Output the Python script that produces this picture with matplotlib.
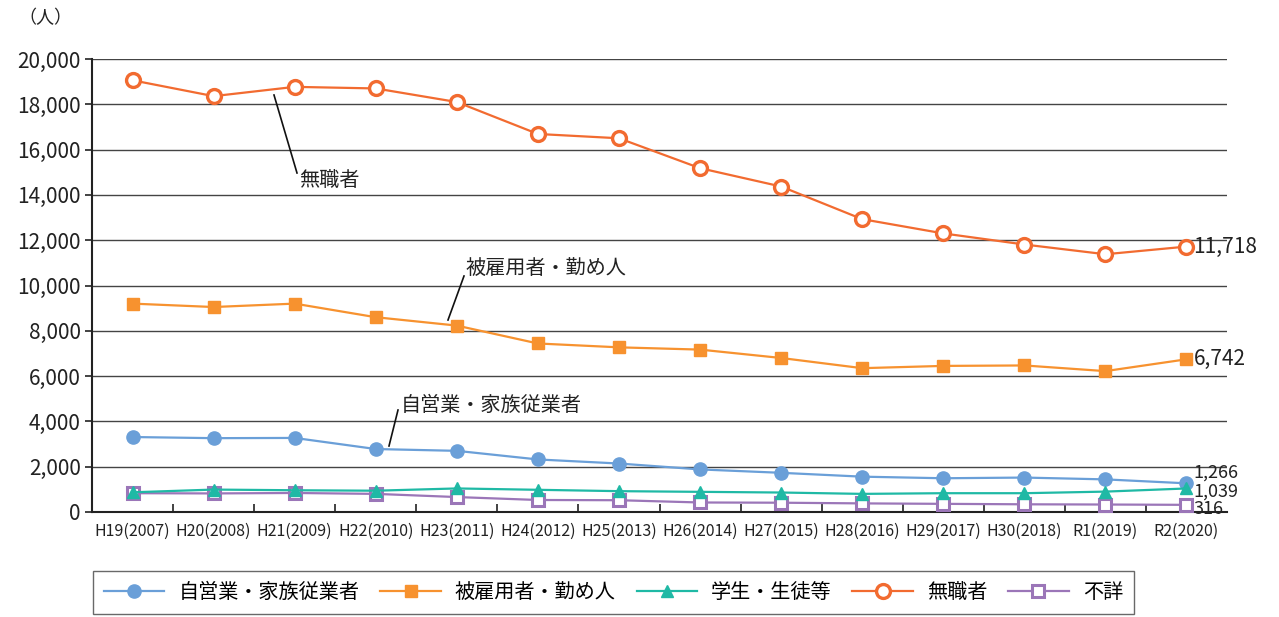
import matplotlib
matplotlib.use("Agg")
import matplotlib.pyplot as plt
from matplotlib.ticker import FuncFormatter

plt.rcParams['font.family'] = ['Noto Sans CJK JP', 'DejaVu Sans']

categories = ["H19(2007)", "H20(2008)", "H21(2009)", "H22(2010)", "H23(2011)", "H24(2012)",
              "H25(2013)", "H26(2014)", "H27(2015)", "H28(2016)", "H29(2017)", "H30(2018)",
              "R1(2019)", "R2(2020)"]
self_employed = [3310, 3260, 3270, 2780, 2700, 2320, 2140, 1880, 1730, 1560, 1490, 1520, 1440, 1266]
employed = [9200, 9050, 9200, 8600, 8230, 7440, 7270, 7170, 6800, 6350, 6450, 6470, 6220, 6742]
students = [870, 990, 960, 940, 1040, 980, 920, 890, 860, 800, 830, 830, 900, 1039]
unemployed = [19060, 18360, 18770, 18700, 18100, 16690, 16500, 15180, 14370, 12930, 12300, 11810, 11380, 11718]
unknown = [830, 820, 840, 800, 660, 530, 520, 420, 410, 380, 360, 340, 330, 316]

series_names = ["自営業・家族従業者", "被雇用者・勤め人", "学生・生徒等", "無職者", "不詳"]

W, H = 1279, 617
fig = plt.figure(figsize=(W / 100, H / 100), dpi=100)
ax = fig.add_axes([92 / W, 1 - 512 / H, (1227 - 92) / W, (512 - 59) / H])

x = list(range(len(categories)))
lw = 1.6
ax.plot(x, self_employed, color="#6a9fd8", lw=lw, marker="o", ms=9.5, mec="#6a9fd8", mfc="#6a9fd8",
        label=series_names[0], zorder=3)
ax.plot(x, employed, color="#f7922f", lw=lw, marker="s", ms=8.5, mec="#f7922f", mfc="#f7922f",
        label=series_names[1], zorder=3)
ax.plot(x, students, color="#1fb9a5", lw=lw, marker="^", ms=9, mec="#1fb9a5", mfc="#1fb9a5",
        label=series_names[2], zorder=4)
ax.plot(x, unemployed, color="#f26b30", lw=lw, marker="o", ms=10, mec="#f26b30", mfc="white",
        mew=2.4, label=series_names[3], zorder=3)
ax.plot(x, unknown, color="#9b76b8", lw=lw, marker="s", ms=8, mec="#9b76b8", mfc="white",
        mew=2.2, label=series_names[4], zorder=3)

ax.set_xlim(-0.5, len(categories) - 0.5)
ax.set_ylim(0, 20000)
ax.set_yticks(range(0, 20001, 2000))
ax.yaxis.set_major_formatter(FuncFormatter(lambda v, p: f"{int(v):,}"))
ax.grid(axis="y", color="#444444", lw=1.0)
ax.set_axisbelow(True)
for s in ["top", "right"]:
    ax.spines[s].set_visible(False)
ax.spines["left"].set_color("#222222")
ax.spines["bottom"].set_color("#222222")
ax.spines["left"].set_linewidth(1.5)
ax.spines["bottom"].set_linewidth(1.5)
ax.tick_params(axis="y", labelsize=15, length=5, width=1.2, colors="#222222", pad=3)
ax.set_xticks(x)
ax.set_xticklabels(categories, fontsize=11.5, color="#222222")
ax.tick_params(axis="x", length=0, pad=8)
ax.set_xticks([i + 0.5 for i in x[:-1]], minor=True)
ax.tick_params(axis="x", which="minor", direction="in", length=6, width=1.2, colors="#222222")

fig.text(18 / W, 1 - 18 / H, "（人）", fontsize=13, va="center", ha="left", color="#222222")

# end-value labels
last = len(categories) - 1
end_kw = dict(fontsize=15, color="#222222", va="center", ha="left")
small_kw = dict(fontsize=13, color="#222222", va="center", ha="left")
ax.annotate(f"{unemployed[-1]:,}", (last, unemployed[-1]), xytext=(5, 0), textcoords="offset points", **end_kw)
ax.annotate(f"{employed[-1]:,}", (last, employed[-1]), xytext=(5, 0), textcoords="offset points", **end_kw)
ax.annotate(f"{self_employed[-1]:,}", (last, self_employed[-1]), xytext=(5, 8), textcoords="offset points", **small_kw)
ax.annotate(f"{students[-1]:,}", (last, students[-1]), xytext=(5, -2), textcoords="offset points", **small_kw)
ax.annotate(f"{unknown[-1]:,}", (last, unknown[-1]), xytext=(5, -3), textcoords="offset points", **small_kw)

# callout labels
def px2data(px, py):
    disp = fig.transFigure.transform((px / W, 1 - py / H))
    return ax.transData.inverted().transform(disp)

def callout(text, p0, p1, tp):
    a = px2data(*p0)
    b = px2data(*p1)
    ax.plot([a[0], b[0]], [a[1], b[1]], color="#111111", lw=1.2, zorder=5)
    t = px2data(*tp)
    ax.text(t[0], t[1], text, fontsize=14.5, color="#222222", ha="left", va="center", zorder=6)

callout("無職者", (274, 95), (297, 173), (299, 181))
callout("被雇用者・勤め人", (448, 320), (464, 276), (466, 268))
callout("自営業・家族従業者", (389, 446), (398, 410), (401, 405))

leg = fig.legend(loc="upper left", bbox_to_anchor=(93 / W, 1 - 571 / H, (1134 - 93) / W, 0),
                 mode="expand", ncol=5, fontsize=14.5, frameon=True, fancybox=False,
                 edgecolor="#444444", handlelength=3.0, borderpad=0.55, columnspacing=1.2,
                 handletextpad=0.7, borderaxespad=0)
leg.get_frame().set_linewidth(1.0)

fig.savefig("out.png", dpi=100)
